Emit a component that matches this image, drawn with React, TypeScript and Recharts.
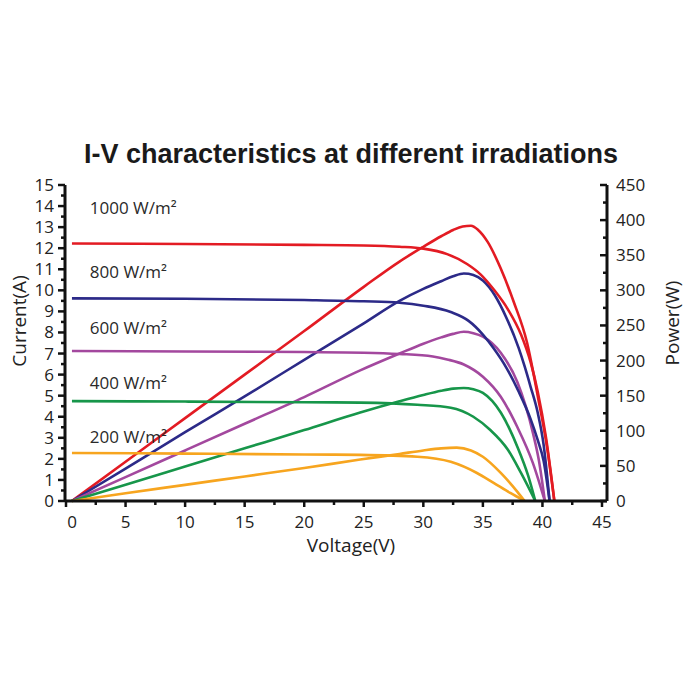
import React from 'react';
import { LineChart, Line, XAxis, YAxis } from 'recharts';

type Pair = [number, number];

// Tick values
const voltageTicks = [0, 2.5, 5, 7.5, 10, 12.5, 15, 17.5, 20, 22.5, 25, 27.5, 30, 32.5, 35, 37.5, 40, 42.5, 45];
const currentTicks = [0, 0.5, 1, 1.5, 2, 2.5, 3, 3.5, 4, 4.5, 5, 5.5, 6, 6.5, 7, 7.5, 8, 8.5, 9, 9.5, 10, 10.5, 11, 11.5, 12, 12.5, 13, 13.5, 14, 14.5, 15];
const powerTicks = [0, 25, 50, 75, 100, 125, 150, 175, 200, 225, 250, 275, 300, 325, 350, 375, 400, 425, 450];

// Irradiance levels (W/m²)
const irradiances = ['1000', '800', '600', '400', '200'];

// I-V curves: [voltage V, current A]
const iv1000: Pair[] = [[0.5, 12.22], [10, 12.2], [20, 12.16], [25, 12.13], [28, 12.07], [30, 11.98], [32, 11.72], [33.7, 11.24], [34.8, 10.76], [35.9, 10.05], [37.1, 9.1], [38.2, 7.9], [39, 6.6], [39.6, 5.2], [40.3, 3.0], [41, 0]];
const iv800: Pair[] = [[0.5, 9.62], [10, 9.6], [20, 9.54], [25, 9.48], [28, 9.41], [30, 9.27], [32.3, 8.97], [33.8, 8.55], [35, 7.9], [35.9, 7.25], [37, 6.3], [38, 5.2], [39, 3.9], [39.6, 2.9], [40.1, 1.9], [40.6, 0]];
const iv600: Pair[] = [[0.5, 7.12], [10, 7.1], [20, 7.07], [25, 7.04], [28, 6.98], [30.8, 6.86], [32, 6.72], [33.4, 6.48], [35, 5.9], [36.5, 4.95], [37.9, 3.5], [39.2, 1.8], [40.2, 0]];
const iv400: Pair[] = [[0.5, 4.74], [10, 4.72], [20, 4.69], [24.7, 4.67], [29.5, 4.57], [32.3, 4.43], [34.2, 4.0], [35.6, 3.38], [37.1, 2.43], [38.2, 1.33], [39.4, 0]];
const iv200: Pair[] = [[0.5, 2.28], [10, 2.25], [20, 2.21], [24.7, 2.19], [29.5, 2.1], [32.3, 1.86], [34.5, 1.33], [35.9, 0.86], [37.3, 0.38], [38.5, 0]];

// P-V curves: [voltage V, power W]
const pv1000: Pair[] = [[0.5, 0], [5, 56], [10, 118], [15, 180], [20, 242], [25, 305], [28, 341], [30, 362], [31.5, 377], [32.5, 386], [33.3, 391], [34, 392], [34.6, 386], [35.4, 369], [36.5, 331], [37.6, 283], [38.7, 226], [39.6, 150], [40.4, 75], [41, 0]];
const pv800: Pair[] = [[0.5, 0], [5, 46], [10, 98], [15, 149], [20, 201], [25, 253], [28, 285], [30, 302], [31.5, 313], [32.5, 320], [33.4, 324], [34.2, 322], [35, 314], [36, 293], [37, 260], [38, 218], [38.5, 192], [39, 163], [39.6, 126], [40.1, 80], [40.6, 0]];
const pv600: Pair[] = [[0.5, 0], [5, 34], [10, 72], [15, 110], [20, 148], [24.7, 186], [28, 210], [30, 224], [31.5, 233], [32.5, 238], [33.4, 241], [34.2, 239], [35, 234], [36.5, 211], [37.9, 169], [39.2, 97], [39.7, 58], [40.2, 0]];
const pv400: Pair[] = [[0.5, 0], [5, 23], [10, 49], [15, 75], [20, 101], [24.7, 126], [28, 142], [30, 151], [31.5, 157], [32.5, 160], [33.4, 161], [34.2, 159], [35, 154], [36.5, 126], [37.9, 77], [38.8, 36], [39.4, 0]];
const pv200: Pair[] = [[0.5, 0], [5, 11], [10, 23], [15, 35], [20, 47], [24.7, 59], [28, 67], [30, 72], [31.5, 75], [32.8, 76], [34, 72], [35, 63], [36.5, 40], [37.9, 13], [38.5, 0]];

const colors = ['#e31b23', '#2c2a88', '#a3489e', '#17964a', '#f7a51f'];
const ivSeries = [iv1000, iv800, iv600, iv400, iv200];
const pvSeries = [pv1000, pv800, pv600, pv400, pv200];

// Annotation anchors: [voltage V, current A] where each irradiance caption starts
const captionAnchors: Pair[] = [[2.0, 13.9], [2.0, 10.85], [2.0, 8.2], [2.0, 5.6], [2.0, 3.05]];

const toPoints = (pairs: Pair[]) => pairs.map(([v, y]) => ({ v, y }));

const INK = '#111';
const FONT = '"Open Sans", "DejaVu Sans", sans-serif';
const TICK_TEXT = { fontFamily: FONT, fontSize: 17, fill: '#222' };

// Plot frame in chart pixels
const W = 700;
const H = 700;
const margin = { top: 185, right: 43, bottom: 169, left: 20 };
const leftAxisWidth = 45;
const rightAxisWidth = 50;
const plotLeft = margin.left + leftAxisWidth;
const plotRight = W - margin.right - rightAxisWidth;
const plotTop = margin.top;
const plotBottom = H - margin.bottom - 30;
const xPad = { left: 1, right: 5 };
const xScale = (v: number) =>
  plotLeft + xPad.left + ((plotRight - plotLeft - xPad.left - xPad.right) * v) / 45;
const yScale = (a: number) => plotBottom - ((plotBottom - plotTop) * a) / 15;

const BottomTick = (props: any) => {
  const { x, y, payload } = props;
  const v = payload.value as number;
  const major = v % 5 === 0;
  return (
    <g>
      <line x1={x} x2={x} y1={y} y2={y + (major ? 6 : 4)} stroke={INK} strokeWidth={2.5} />
      {major && (
        <text x={x + (v === 0 ? 6 : 0)} y={y + 27} textAnchor="middle" {...TICK_TEXT}>
          {v}
        </text>
      )}
    </g>
  );
};

const TopTick = (props: any) => {
  const { x, y } = props;
  return <line x1={x} x2={x} y1={y} y2={y + 4} stroke={INK} strokeWidth={2.5} />;
};

const LeftTick = (props: any) => {
  const { x, y, payload } = props;
  const v = payload.value as number;
  const major = Number.isInteger(v);
  return (
    <g>
      <line x1={x - (major ? 7 : 4)} x2={x} y1={y} y2={y} stroke={INK} strokeWidth={2.5} />
      {major && (
        <text x={x - 11} y={y + 6} textAnchor="end" {...TICK_TEXT}>
          {v}
        </text>
      )}
    </g>
  );
};

const RightTick = (props: any) => {
  const { x, y, payload } = props;
  const v = payload.value as number;
  const major = v % 50 === 0;
  return (
    <g>
      <line x1={x - (major ? 7 : 4)} x2={x} y1={y} y2={y} stroke={INK} strokeWidth={2.5} />
      {major && (
        <text x={x + 9} y={y + 6} textAnchor="start" {...TICK_TEXT}>
          {v}
        </text>
      )}
    </g>
  );
};

export default function App() {
  return (
    <div style={{ position: 'absolute', left: 0, top: 0, width: W, height: H, background: '#fff' }}>
      <LineChart width={W} height={H} margin={margin}>
        <XAxis
          xAxisId="bottom"
          dataKey="v"
          type="number"
          domain={[0, 45]}
          ticks={voltageTicks}
          interval={0}
          padding={xPad}
          height={30}
          tickSize={0}
          tickMargin={0}
          tickLine={false}
          tick={<BottomTick />}
          axisLine={{ stroke: INK, strokeWidth: 3 }}
        />
        <XAxis
          xAxisId="top"
          orientation="top"
          dataKey="v"
          type="number"
          domain={[0, 45]}
          ticks={voltageTicks}
          interval={0}
          padding={xPad}
          height={0}
          tickSize={0}
          tickMargin={0}
          tickLine={false}
          tick={<TopTick />}
          axisLine={{ stroke: INK, strokeWidth: 3 }}
        />
        <YAxis
          yAxisId="current"
          orientation="left"
          type="number"
          domain={[0, 15]}
          ticks={currentTicks}
          interval={0}
          width={leftAxisWidth}
          tickSize={0}
          tickMargin={0}
          tickLine={false}
          tick={<LeftTick />}
          axisLine={{ stroke: INK, strokeWidth: 3 }}
        />
        <YAxis
          yAxisId="power"
          orientation="right"
          type="number"
          domain={[0, 450]}
          ticks={powerTicks}
          interval={0}
          width={rightAxisWidth}
          tickSize={0}
          tickMargin={0}
          tickLine={false}
          tick={<RightTick />}
          axisLine={{ stroke: INK, strokeWidth: 3 }}
        />
        {pvSeries.map((s, i) => (
          <Line
            key={`pv-${irradiances[i]}`}
            data={toPoints(s)}
            dataKey="y"
            xAxisId="bottom"
            yAxisId="power"
            type="monotone"
            stroke={colors[i]}
            strokeWidth={2.6}
            dot={false}
            isAnimationActive={false}
          />
        ))}
        {ivSeries.map((s, i) => (
          <Line
            key={`iv-${irradiances[i]}`}
            data={toPoints(s)}
            dataKey="y"
            xAxisId="bottom"
            yAxisId="current"
            type="monotone"
            stroke={colors[i]}
            strokeWidth={2.6}
            dot={false}
            isAnimationActive={false}
          />
        ))}
      </LineChart>
      <svg
        width={W}
        height={H}
        style={{ position: 'absolute', left: 0, top: 0, pointerEvents: 'none' }}
      >
        <text
          x={351}
          y={163}
          textAnchor="middle"
          fontFamily='"Liberation Sans", Arial, sans-serif'
          fontWeight="bold"
          fontSize={27}
          fill="#1a1a1a"
        >
          I-V characteristics at different irradiations
        </text>
        <text
          transform={`translate(26, 321) rotate(-90)`}
          textAnchor="middle"
          fontFamily={FONT}
          fontSize={19}
          fill="#222"
        >
          Current(A)
        </text>
        <text
          transform={`translate(679, 323) rotate(-90)`}
          textAnchor="middle"
          fontFamily={FONT}
          fontSize={19}
          fill="#222"
        >
          Power(W)
        </text>
        <text x={351} y={552} textAnchor="middle" fontFamily={FONT} fontSize={19} fill="#222">
          Voltage(V)
        </text>
        {captionAnchors.map(([v, a], i) => (
          <text
            key={irradiances[i]}
            x={xScale(v)}
            y={yScale(a) + 6}
            fontFamily={FONT}
            fontSize={17}
            fill="#2a2a2a"
          >
            {`${irradiances[i]} W/m²`}
          </text>
        ))}
      </svg>
    </div>
  );
}
